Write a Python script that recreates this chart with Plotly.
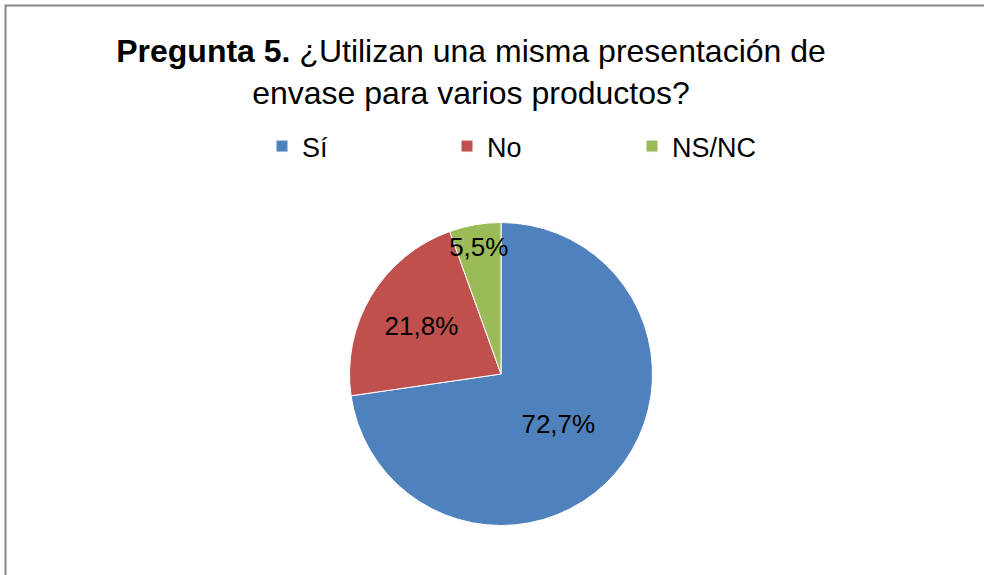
import plotly.graph_objects as go

categories = ["Sí", "No", "NS/NC"]
values = [72.7, 21.8, 5.5]
text_labels = ["72,7%", "21,8%", "5,5%"]
colors = ["#4F81BD", "#C0504D", "#9BBB59"]

W, H = 984, 575
FONT = "Liberation Sans, Arial, sans-serif"

cx, cy, r = 501, 374, 151.5

fig = go.Figure(go.Pie(
    labels=categories,
    values=values,
    text=text_labels,
    textinfo="text",
    textposition="inside",
    insidetextorientation="horizontal",
    textfont=dict(family=FONT, size=26, color="black"),
    marker=dict(colors=colors, line=dict(color="white", width=1)),
    sort=False,
    direction="clockwise",
    rotation=0,
    hoverinfo="label+percent",
    domain=dict(x=[(cx - r) / W, (cx + r) / W], y=[1 - (cy + r) / H, 1 - (cy - r) / H]),
))

fig.update_layout(
    width=W, height=H,
    margin=dict(l=0, r=0, t=0, b=0),
    paper_bgcolor="white",
    plot_bgcolor="white",
    uniformtext=dict(minsize=26, mode="show"),
    title=dict(
        text="<b>Pregunta 5.</b> ¿Utilizan una misma presentación de<br>envase para varios productos?",
        x=471 / W, xanchor="center",
        y=1 - 62 / H, yanchor="top", yref="container",
        font=dict(family=FONT, size=32, color="black"),
    ),
    legend=dict(
        orientation="h",
        x=262 / W, xanchor="left",
        y=1 - 122 / H, yanchor="top",
        font=dict(family=FONT, size=27, color="black"),
        entrywidth=140, entrywidthmode="pixels",
        traceorder="normal",
    ),
    shapes=[dict(
        type="rect", xref="paper", yref="paper",
        x0=5.5 / W, x1=1.05, y0=-0.05, y1=1 - 5.5 / H,
        line=dict(color="#878787", width=2),
    )],
)

fig.write_html(
    "out.html",
    config={"displayModeBar": False},
    post_script="document.body.style.margin='0';document.body.style.overflow='hidden';",
)
